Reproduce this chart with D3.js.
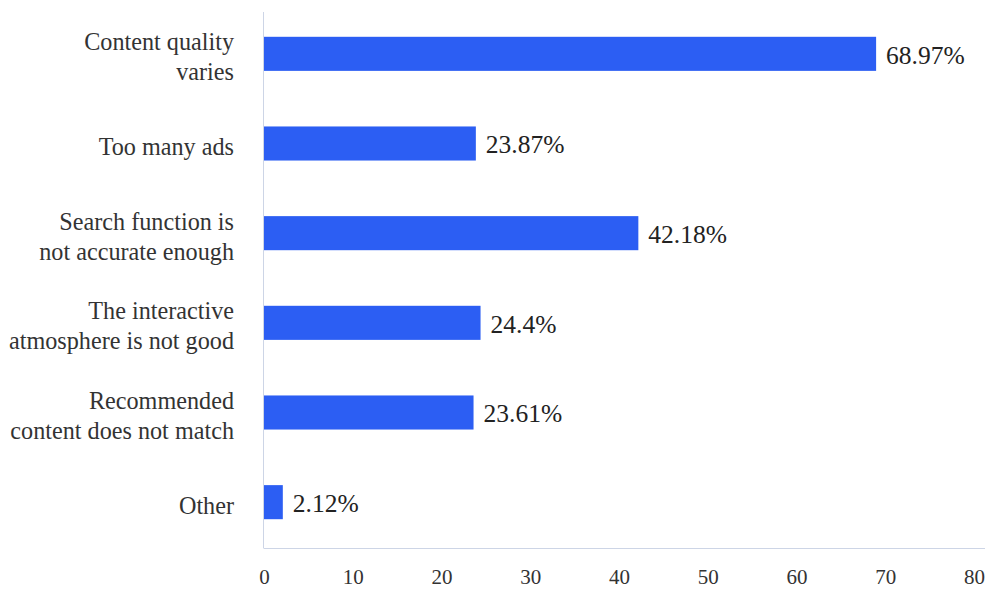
<!DOCTYPE html>
<html>
<head>
<meta charset="utf-8">
<script src="https://cdn.jsdelivr.net/npm/d3@7"></script>
<style>
  html, body { margin: 0; padding: 0; background: #fff; }
  svg { display: block; }
  text { font-family: "Liberation Serif", "Times New Roman", serif; }
</style>
</head>
<body>
<svg id="chart" width="985" height="591"></svg>
<script>
// Reasons users gave, with the share (%) choosing each one
const categories = [
  ["Content quality", "varies"],
  ["Too many ads"],
  ["Search function is", "not accurate enough"],
  ["The interactive", "atmosphere is not good"],
  ["Recommended", "content does not match"],
  ["Other"]
];
const values = [68.97, 23.87, 42.18, 24.4, 23.61, 2.12];
const xTicks = [0, 10, 20, 30, 40, 50, 60, 70, 80];

const svg = d3.select("#chart");
const plotLeft = 264, plotRight = 974, plotTop = 9, plotBottom = 547;

const x = d3.scaleLinear().domain([0, 80]).range([plotLeft, plotRight]);
const y = d3.scaleBand()
  .domain(d3.range(categories.length))
  .range([plotTop, plotBottom])
  .paddingInner(0.62)
  .paddingOuter(0.31);

// Bars
svg.append("g").selectAll("rect")
  .data(values)
  .join("rect")
  .attr("x", x(0))
  .attr("y", (d, i) => y(i))
  .attr("width", d => x(d) - x(0))
  .attr("height", y.bandwidth())
  .attr("fill", "#2c5ef3");

// Value labels at the end of each bar
svg.append("g").selectAll("text")
  .data(values)
  .join("text")
  .attr("x", d => x(d) + 10)
  .attr("y", (d, i) => y(i) + y.bandwidth() / 2 + 1)
  .attr("dy", "0.35em")
  .attr("font-size", 25.5)
  .attr("fill", "#222")
  .text(d => d + "%");

// Category axis (left)
const yAxis = svg.append("g")
  .attr("transform", `translate(${plotLeft - 0.5},0)`)
  .call(d3.axisLeft(y).tickSize(0).tickFormat(""));
yAxis.select(".domain").attr("stroke", "#cdd5e6").attr("d", `M0,${plotTop + 3}V${plotBottom + 1}`);

const catG = svg.append("g").selectAll("text")
  .data(categories)
  .join("text")
  .attr("text-anchor", "end")
  .attr("font-size", 24.2)
  .attr("fill", "#333")
  .attr("transform", (d, i) => {
    const cy = y(i) + y.bandwidth() / 2 + 3;
    const off = (d.length - 1) * 15;
    return `translate(${plotLeft - 30},${cy - off})`;
  });
catG.selectAll("tspan")
  .data(d => d)
  .join("tspan")
  .attr("x", 0)
  .attr("dy", (d, j) => j === 0 ? "0.35em" : 30)
  .text(d => d);

// Value axis (bottom)
const xAxis = svg.append("g")
  .attr("transform", `translate(0,${plotBottom + 1.5})`)
  .call(d3.axisBottom(x).tickValues(xTicks).tickSize(0).tickPadding(21));
xAxis.select(".domain").attr("stroke", "#cdd5e6").attr("d", `M${plotLeft - 0.5},0H985`);
xAxis.selectAll(".tick text")
  .attr("font-family", "Liberation Serif, serif")
  .attr("font-size", 21)
  .attr("fill", "#333");
</script>
</body>
</html>
